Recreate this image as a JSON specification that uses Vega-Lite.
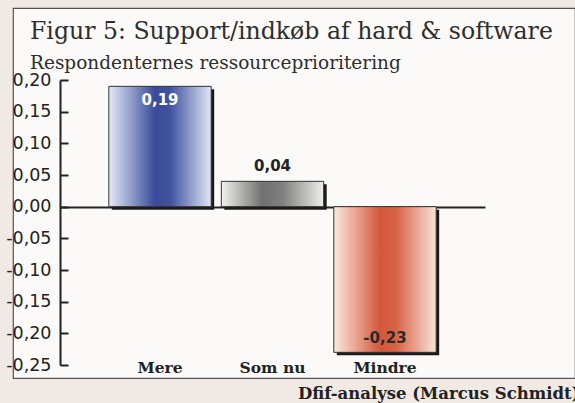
{
  "$schema": "https://vega.github.io/schema/vega-lite/v6.json",
  "autosize": {"type": "none"},
  "width": 562,
  "height": 370,
  "padding": {"left": 13, "top": 8, "right": 0, "bottom": 25},
  "background": "#f1e9e3",
  "view": {"fill": "#fbfaf8", "stroke": "#555555", "strokeWidth": 1.2},
  "title": {
    "text": "Figur 5: Support/indkøb af hard & software",
    "subtitle": "Respondenternes ressourceprioritering",
    "anchor": "start",
    "frame": "group",
    "dx": 17,
    "offset": -64,
    "font": "DejaVu Serif",
    "fontSize": 23.6,
    "fontWeight": "normal",
    "color": "#2e2e2e",
    "subtitleFont": "DejaVu Serif",
    "subtitleFontSize": 18.5,
    "subtitleColor": "#2e2e2e",
    "subtitlePadding": 10
  },
  "data": {
    "values": [
      {"cat": "Mere", "value": 0.19, "label": "0,19"},
      {"cat": "Som nu", "value": 0.04, "label": "0,04"},
      {"cat": "Mindre", "value": -0.23, "label": "-0,23"}
    ]
  },
  "encoding": {
    "x": {
      "field": "cat",
      "type": "nominal",
      "sort": ["Mere", "Som nu", "Mindre"],
      "scale": {"range": [47, 472], "paddingInner": 0.09, "paddingOuter": 0.434},
      "axis": {
        "orient": "bottom",
        "offset": -171,
        "labels": false,
        "ticks": false,
        "domainColor": "#222222",
        "domainWidth": 2,
        "title": "Dfif-analyse (Marcus Schmidt)",
        "titleFont": "DejaVu Serif",
        "titleFontSize": 16.5,
        "titleFontWeight": "bold",
        "titleColor": "#222222",
        "titleAlign": "right",
        "titleAnchor": null,
        "titleBaseline": "alphabetic",
        "titleX": 566,
        "titleY": 191
      }
    },
    "y": {
      "field": "value",
      "type": "quantitative",
      "scale": {"domain": [-0.25, 0.2], "range": [357, 72], "nice": false, "zero": false},
      "axis": {
        "orient": "left",
        "offset": -47,
        "values": [-0.25, -0.2, -0.15, -0.1, -0.05, 0, 0.05, 0.1, 0.15, 0.2],
        "labelExpr": "(datum.value < -0.001 ? '-' : '') + replace(format(abs(datum.value), '.2f'), '.', ',')",
        "grid": false,
        "title": null,
        "domainColor": "#222222",
        "domainWidth": 2,
        "tickColor": "#222222",
        "tickWidth": 2,
        "tickSize": -8,
        "labelPadding": 17,
        "labelFont": "DejaVu Sans",
        "labelFontSize": 17.5,
        "labelColor": "#222222",
        "labelAlign": "right",
        "labelBaseline": "middle"
      }
    }
  },
  "layer": [
    {
      "mark": {"type": "bar", "color": "#1a1a1a", "xOffset": 3, "x2Offset": 3, "yOffset": 3, "y2Offset": 3}
    },
    {
      "transform": [{"filter": "datum.cat == 'Mere'"}],
      "mark": {
        "type": "bar",
        "stroke": "#333333",
        "strokeWidth": 1,
        "fill": {
          "gradient": "linear", "x1": 0, "x2": 1, "y1": 0, "y2": 0,
          "stops": [
            {"offset": 0, "color": "#e4eaf6"},
            {"offset": 0.45, "color": "#3a4b99"},
            {"offset": 0.6, "color": "#41529f"},
            {"offset": 1, "color": "#e0e7f5"}
          ]
        }
      }
    },
    {
      "transform": [{"filter": "datum.cat == 'Som nu'"}],
      "mark": {
        "type": "bar",
        "stroke": "#333333",
        "strokeWidth": 1,
        "fill": {
          "gradient": "linear", "x1": 0, "x2": 1, "y1": 0, "y2": 0,
          "stops": [
            {"offset": 0, "color": "#f2f2ee"},
            {"offset": 0.4, "color": "#707070"},
            {"offset": 0.6, "color": "#808080"},
            {"offset": 1, "color": "#eeeeea"}
          ]
        }
      }
    },
    {
      "transform": [{"filter": "datum.cat == 'Mindre'"}],
      "mark": {
        "type": "bar",
        "stroke": "#333333",
        "strokeWidth": 1,
        "fill": {
          "gradient": "linear", "x1": 0, "x2": 1, "y1": 0, "y2": 0,
          "stops": [
            {"offset": 0, "color": "#fbe9df"},
            {"offset": 0.45, "color": "#d4583c"},
            {"offset": 0.6, "color": "#d86044"},
            {"offset": 1, "color": "#f8e3d8"}
          ]
        }
      }
    },
    {
      "transform": [{"filter": "datum.cat == 'Mere'"}],
      "mark": {"type": "text", "baseline": "top", "dy": 7, "font": "DejaVu Sans", "fontSize": 15, "fontWeight": "bold", "color": "#ffffff"},
      "encoding": {"text": {"field": "label"}}
    },
    {
      "transform": [{"filter": "datum.cat == 'Som nu'"}],
      "mark": {"type": "text", "baseline": "alphabetic", "dy": -10, "font": "DejaVu Sans", "fontSize": 15, "fontWeight": "bold", "color": "#222222"},
      "encoding": {"text": {"field": "label"}}
    },
    {
      "transform": [{"filter": "datum.cat == 'Mindre'"}],
      "mark": {"type": "text", "baseline": "alphabetic", "dy": -9, "font": "DejaVu Sans", "fontSize": 15, "fontWeight": "bold", "color": "#2a2a2a"},
      "encoding": {"text": {"field": "label"}}
    },
    {
      "mark": {"type": "text", "baseline": "alphabetic", "dy": 8, "font": "DejaVu Serif", "fontSize": 15.5, "fontWeight": "bold", "color": "#222222"},
      "encoding": {"y": {"datum": -0.25}, "text": {"field": "cat"}}
    }
  ]
}
